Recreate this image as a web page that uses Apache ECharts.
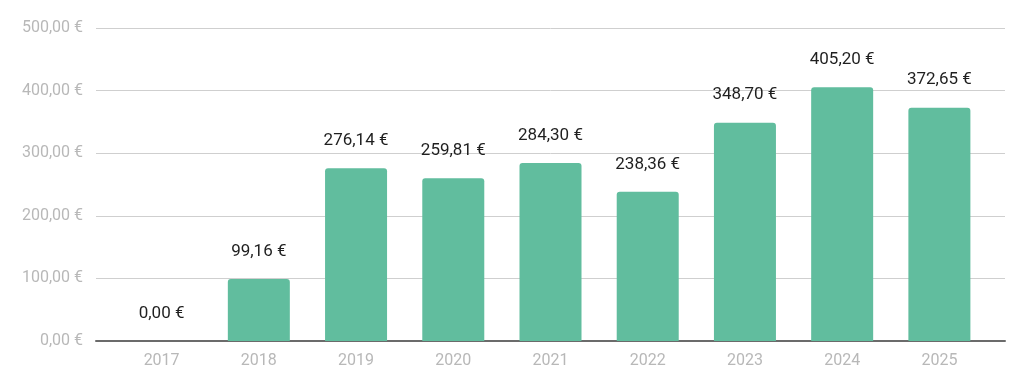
<!DOCTYPE html>
<html><head><meta charset="utf-8">
<script src="https://cdn.jsdelivr.net/npm/echarts@6/dist/echarts.min.js"></script>
<style>html,body{margin:0;padding:0;background:#fff}#c{width:1024px;height:387px}</style>
</head><body><div id="c"></div>
<script>
var years = ['2017','2018','2019','2020','2021','2022','2023','2024','2025'];
var values = [0, 99.16, 276.14, 259.81, 284.30, 238.36, 348.70, 405.20, 372.65];
var yTicks = [0, 100, 200, 300, 400, 500];
function eur(v){ return v.toFixed(2).replace('.', ',') + ' €'; }
var chart = echarts.init(document.getElementById('c'));
chart.setOption({
  animation: false,
  grid: [
    {left: 96, right: 19, top: 28, bottom: 46},
    {left: 113, right: 36, top: 28, bottom: 46}
  ],
  xAxis: [
    {gridIndex: 0, type: 'value', min: 0, max: 1, axisLabel: {show: false}, axisTick: {show: false}, splitLine: {show: false},
     axisLine: {show: true, onZero: false, lineStyle: {color: '#6b6b6b', width: 2}}},
    {gridIndex: 1, type: 'category', data: years, axisLine: {show: false}, axisTick: {show: false},
     axisLabel: {color: '#b8b8b8', fontFamily: 'Roboto', fontSize: 16, margin: 12}}
  ],
  yAxis: [
    {gridIndex: 0, type: 'value', min: 0, max: yTicks[yTicks.length-1], interval: 100,
     axisLine: {show: false}, axisTick: {show: false},
     axisLabel: {color: '#b8b8b8', fontFamily: 'Roboto', fontSize: 16, margin: 13, formatter: function(v){return eur(v);}},
     splitLine: {lineStyle: {color: '#cfcfcf', width: 1}}},
    {gridIndex: 1, type: 'value', min: 0, max: yTicks[yTicks.length-1], interval: 100, show: false, splitLine: {show: false}}
  ],
  series: [{
    type: 'bar', xAxisIndex: 1, yAxisIndex: 1, data: values, barWidth: 62,
    itemStyle: {color: '#61bd9e', borderRadius: [3,3,0,0]},
    label: {show: true, position: 'top', distance: 19, color: '#1f1f1f', fontFamily: 'Roboto', fontSize: 17,
      formatter: function(p){return eur(p.value);}}
  }]
});
</script></body></html>
